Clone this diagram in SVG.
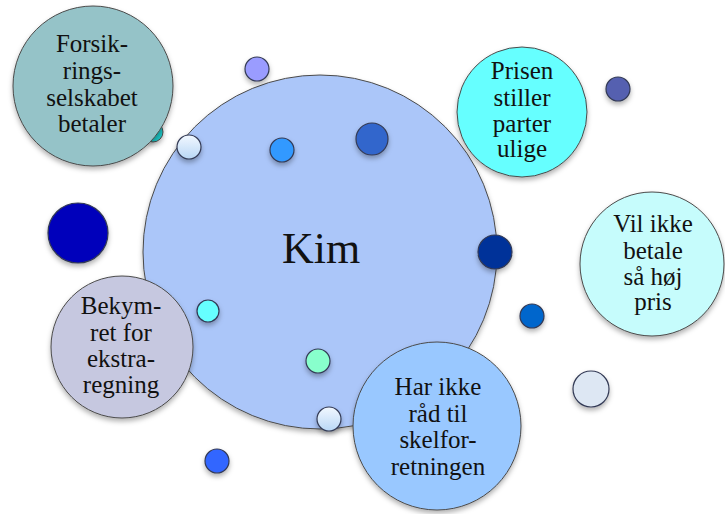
<svg xmlns="http://www.w3.org/2000/svg" width="725" height="514" viewBox="0 0 725 514">
<style>
.n{stroke:#4a4a4a;stroke-width:1;filter:url(#sh)}
.d{stroke:#333a55;stroke-width:1.2;filter:url(#sh)}
.t{font-family:"Liberation Serif","DejaVu Serif",serif;font-size:25px;fill:#111;text-anchor:middle}
.k{font-family:"Liberation Serif","DejaVu Serif",serif;font-size:44px;fill:#111;text-anchor:middle}
</style>
<defs>
<filter id="sh" x="-30%" y="-30%" width="160%" height="170%">
<feDropShadow dx="0" dy="3" stdDeviation="2.5" flood-color="#000" flood-opacity="0.3"/>
</filter>
<linearGradient id="lg" x1="0" y1="0" x2="0" y2="1">
<stop offset="0" stop-color="#f2f8ff"/>
<stop offset="1" stop-color="#b9d7f6"/>
</linearGradient>
</defs>
<g id="connectors"></g>
<g id="teal-small"><circle class="n" cx="153" cy="132" r="10" fill="#1fc4c4"/></g>
<g id="kim"><circle class="n" cx="320" cy="252" r="177" fill="#abc6f9"/>
<text class="k" x="321" y="263">Kim</text></g>
<g id="dot-purple"><circle class="d" cx="257" cy="69" r="12" fill="#9a9cff"/></g>
<g id="dot-light1"><circle class="d" cx="189" cy="147" r="12" fill="url(#lg)"/></g>
<g id="dot-blue1"><circle class="d" cx="282" cy="150" r="12" fill="#3399ff"/></g>
<g id="dot-blue2"><circle class="d" cx="372" cy="139" r="16" fill="#3366cc"/></g>
<g id="dot-navy"><circle class="d" cx="495" cy="252" r="17" fill="#003399" stroke="#001a66"/></g>
<g id="dot-darkblue"><circle class="d" cx="78" cy="233" r="30" fill="#0000bb"/></g>
<g id="dot-slate"><circle class="d" cx="618" cy="89" r="12" fill="#5560b0"/></g>
<g id="dot-blue3"><circle class="d" cx="532" cy="316" r="12" fill="#0066cc"/></g>
<g id="dot-pale"><circle class="d" cx="591" cy="389" r="18" fill="#dde7f3"/></g>
<g id="dot-cyan"><circle class="d" cx="208" cy="311" r="11" fill="#66ffff"/></g>
<g id="dot-mint"><circle class="d" cx="318" cy="361" r="12" fill="#88ffcc"/></g>
<g id="dot-light2"><circle class="d" cx="329" cy="419" r="12" fill="url(#lg)"/></g>
<g id="dot-blue4"><circle class="d" cx="217" cy="461" r="12" fill="#3366ff"/></g>
<g id="forsikring"><circle class="n" cx="93" cy="86" r="80" fill="#95c3c8"/>
<text class="t" x="92"><tspan x="92" y="52">Forsik-</tspan><tspan x="92" y="79">rings-</tspan><tspan x="92" y="106">selskabet</tspan><tspan x="92" y="132">betaler</tspan></text></g>
<g id="prisen"><circle class="n" cx="522" cy="112" r="65" fill="#66ffff"/>
<text class="t"><tspan x="522" y="79">Prisen</tspan><tspan x="522" y="106">stiller</tspan><tspan x="522" y="132">parter</tspan><tspan x="522" y="157">ulige</tspan></text></g>
<g id="vilikke"><circle class="n" cx="652" cy="264" r="72" fill="#c6fcfc"/>
<text class="t"><tspan x="653" y="232">Vil ikke</tspan><tspan x="653" y="259">betale</tspan><tspan x="653" y="285">så høj</tspan><tspan x="653" y="310">pris</tspan></text></g>
<g id="bekymret"><circle class="n" cx="122" cy="347" r="71" fill="#c6c8e0"/>
<text class="t"><tspan x="121" y="314">Bekym-</tspan><tspan x="121" y="341">ret for</tspan><tspan x="121" y="367">ekstra-</tspan><tspan x="121" y="393">regning</tspan></text></g>
<g id="harikke"><circle class="n" cx="437" cy="426" r="84" fill="#99c8ff"/>
<text class="t"><tspan x="438" y="395">Har ikke</tspan><tspan x="438" y="422">råd til</tspan><tspan x="438" y="448">skelfor-</tspan><tspan x="438" y="475">retningen</tspan></text></g>
</svg>
